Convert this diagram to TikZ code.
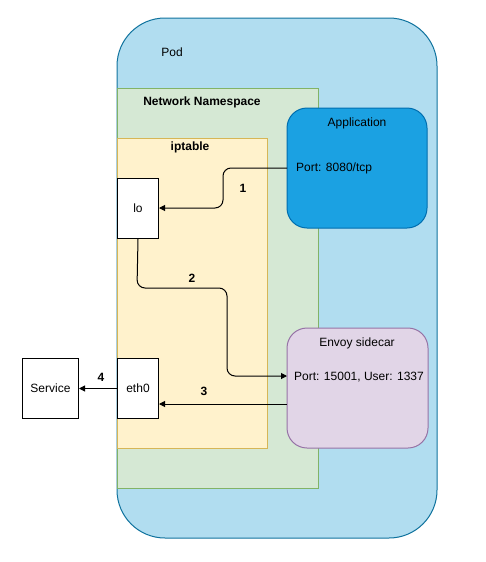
\documentclass[tikz,border=0pt]{standalone}
\usepackage{fontspec}
\setmainfont{Liberation Sans}
\usetikzlibrary{arrows.meta}
\definecolor{podfill}{HTML}{B1DDF0}
\definecolor{podline}{HTML}{10739E}
\definecolor{nsfill}{HTML}{D5E8D4}
\definecolor{nsline}{HTML}{82B366}
\definecolor{ipfill}{HTML}{FFF2CC}
\definecolor{ipline}{HTML}{D6B656}
\definecolor{appfill}{HTML}{1BA1E2}
\definecolor{appline}{HTML}{006EAF}
\definecolor{envfill}{HTML}{E1D5E7}
\definecolor{envline}{HTML}{9673A6}
\tikzset{
  txt/.style={font=\fontsize{12}{14}\selectfont, inner sep=0pt},
  btxt/.style={font=\fontsize{12}{14}\selectfont\bfseries, inner sep=0pt},
  plainbox/.style={draw=black, fill=white, line width=1pt},
  conn/.style={draw=black, line width=1pt, rounded corners=8pt, -{Triangle[length=6pt,width=6pt]}},
}
\begin{document}
\begin{tikzpicture}[x=1pt,y=-1pt]
\useasboundingbox (0,0) rectangle (486,562);
% Pod
\draw[fill=podfill, draw=podline, line width=1pt, rounded corners=48pt] (117,18) rectangle (437,538);
\node[txt] (podlbl) at (172,52) {Pod};
% Network namespace
\draw[fill=nsfill, draw=nsline, line width=1pt] (117,88) rectangle (318,488);
\node[btxt] (nslbl) at (202,102) {Network Namespace};
% iptable
\draw[fill=ipfill, draw=ipline, line width=1pt] (117,138) rectangle (267,448);
\node[btxt] (iplbl) at (190,147) {iptable};
% Application
\draw[fill=appfill, draw=appline, line width=1pt, rounded corners=20pt] (287,108) rectangle (427,228);
\node[txt] (applbl) at (357,123) {Application};
\node[txt, anchor=west] (appport) at (296,168) {Port: 8080/tcp};
\coordinate (appout) at (287,168);
% Envoy
\draw[fill=envfill, draw=envline, line width=1pt, rounded corners=20pt] (287,328) rectangle (428,448);
\node[txt] (envlbl) at (357,343) {Envoy sidecar};
\node[txt, anchor=west] (envport) at (294,377) {Port: 15001, User: 1337};
\coordinate (envin) at (287,376);
\coordinate (envout) at (287,404);
% lo, eth0, Service
\node[plainbox, txt, minimum width=41pt, minimum height=60pt, anchor=north west] (lo) at (117,178) {lo};
\node[plainbox, txt, minimum width=41pt, minimum height=60pt, anchor=north west] (eth) at (117,358) {eth0};
\node[plainbox, txt, minimum width=56pt, minimum height=60pt, anchor=north west] (svc) at (22,358) {Service};
% connectors
\draw[conn] (appout) -- (223,168) -- (223,208) -- (lo.east |- 0,208);
\node[btxt] (l1) at (243,188) {1};
\draw[conn] (lo.south) -- (137,288) -- (227,288) -- (227,376) -- (envin);
\node[btxt] (l2) at (192,278) {2};
\draw[conn, rounded corners=0pt] (envout) -- (eth.east |- 0,404);
\node[btxt] (l3) at (204,391) {3};
\draw[conn, rounded corners=0pt] (eth.west) -- (svc.east);
\node[btxt] (l4) at (101,377) {4};
\end{tikzpicture}
\end{document}
